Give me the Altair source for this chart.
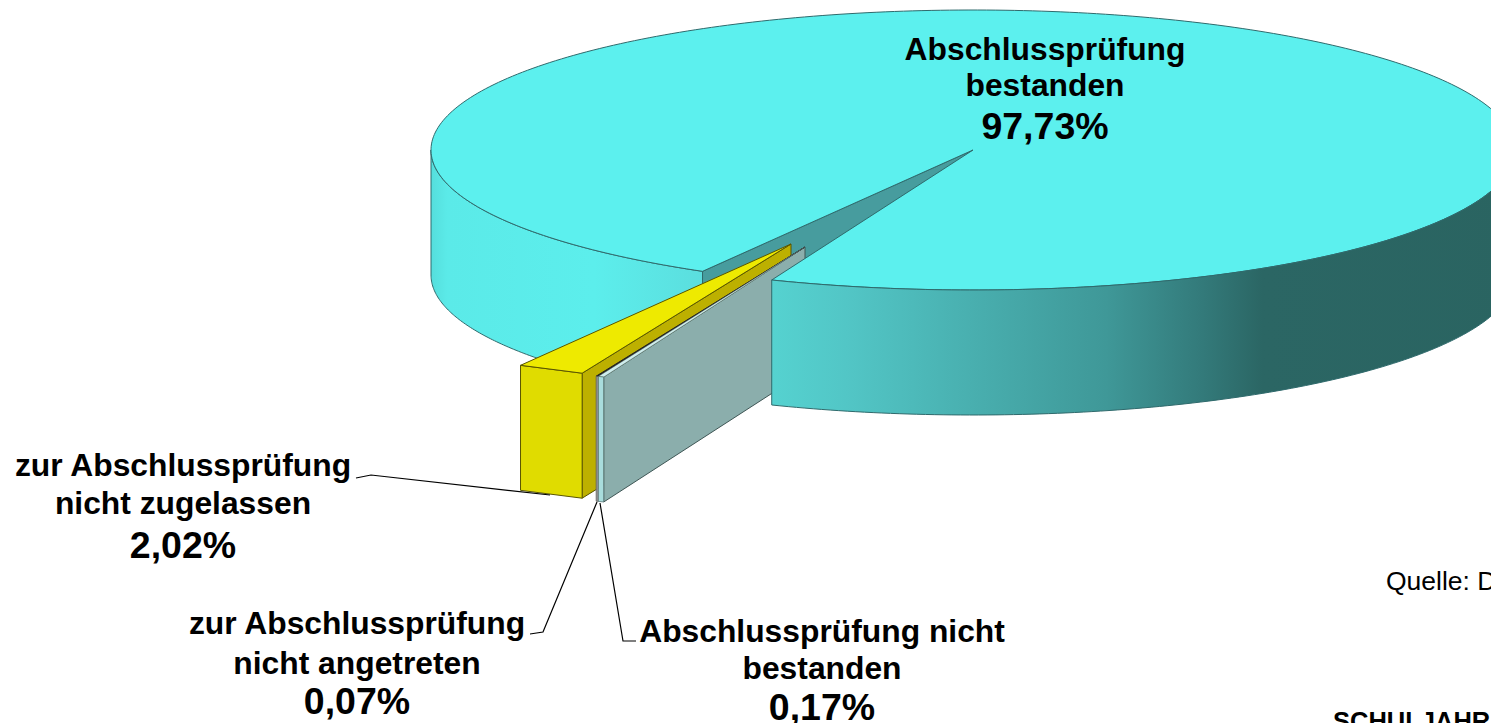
import math
import altair as alt
import pandas as pd

# --- data -------------------------------------------------------------
shares = [97.73, 2.02, 0.07, 0.17]
slice_names = ["Abschlussprüfung bestanden", "zur Abschlussprüfung nicht zugelassen",
               "zur Abschlussprüfung nicht angetreten", "Abschlussprüfung nicht bestanden"]

label_lines = ["Abschlussprüfung", "bestanden",
               "zur Abschlussprüfung", "nicht zugelassen",
               "zur Abschlussprüfung", "nicht angetreten",
               "Abschlussprüfung nicht", "bestanden"]
label_x = [1045, 1045, 183, 183, 357, 357, 822, 822]
label_y = [60, 96, 476, 514, 634, 674, 642, 679]

pct_lines = ["97,73%", "2,02%", "0,07%", "0,17%"]
pct_x = [1045, 183, 357, 822]
pct_y = [139, 558, 714, 720]

note_lines = ["Quelle: De"]
note_x = [1386]
note_y = [590]
head_lines = ["SCHULJAHR 2"]
head_x = [1333]
head_y = [730]

# Pie layout (page pixels)
CX, CY, RX, RY, DEPTH = 973, 150, 542, 140, 125
START = 21.8                      # degrees from the front, where the main slice ends
TIP_YELLOW = (791, 244)
TIP_GREY = (805, 247)

TOP = "#5CF0EE"
EDGE = "#2F6A6C"

X = alt.X("x:Q", scale=alt.Scale(domain=[8, 1491], range=[0, 1483], nice=False, zero=False), axis=None)
Y = alt.Y("y:Q", scale=alt.Scale(domain=[8, 723], range=[0, 715], nice=False, zero=False), axis=None)
Y2 = alt.Y2("y2:Q")


def pt(deg, cx=CX, cy=CY):
    a = math.radians(deg)
    return (cx - RX * math.sin(a), cy + RY * math.cos(a))


def span(share):
    return share * 3.6


def poly(points, fill, stroke=EDGE, sw=1.0):
    df = pd.DataFrame({"x": [p[0] for p in points], "y": [p[1] for p in points],
                       "i": list(range(len(points)))})
    return alt.Chart(df).mark_line(fill=fill, stroke=stroke, strokeWidth=sw,
                                   interpolate="linear-closed").encode(x=X, y=Y, order="i:Q")


def rim(a0, a1, stops, n=120):
    pts = [pt(a0 + (a1 - a0) * k / n) for k in range(n + 1)]
    df = pd.DataFrame({"x": [p[0] for p in pts], "y": [p[1] for p in pts],
                       "y2": [p[1] + DEPTH for p in pts]})
    grad = alt.Gradient(gradient="linear", x1=0, y1=0, x2=1, y2=0,
                        stops=[alt.GradientStop(offset=o, color=c) for o, c in stops])
    return alt.Chart(df).mark_area(color=grad, stroke=EDGE, strokeWidth=1).encode(x=X, y=Y, y2=Y2)


gap = span(shares[1] + shares[2] + shares[3])
A_END = START                       # front edge of the gap
A_BEG = START + gap                 # back edge of the gap
main_deg = 360 - gap

a_pt = pt(A_BEG)
b_pt = pt(A_END)

# angles of the three small slices, counted from the main slice's end
g0, g1 = START, START + span(shares[3])
d0, d1 = g1, g1 + span(shares[2])
y0, y1 = d1, d1 + span(shares[1])


def wedge(tip, a0, a1):
    p0 = pt(a0, tip[0], tip[1])
    p1 = pt(a1, tip[0], tip[1])
    return p0, p1


# back rim at the left, then the inner wall of the gap
left_rim = rim(90, A_BEG, [(0, "#55DEDC"), (0.06, "#5BEAE8"), (0.6, "#5CEEEC"), (1, "#5BDEDE")])
inner = poly([(CX, CY), a_pt, (a_pt[0], a_pt[1] + DEPTH), (CX, CY + DEPTH)], "#479C9E")

# yellow slice
yf, yb = wedge(TIP_YELLOW, y0, y1)
yellow_side = poly([yf, TIP_YELLOW, (TIP_YELLOW[0], TIP_YELLOW[1] + DEPTH), (yf[0], yf[1] + DEPTH)],
                   "#BDB000", "#5A5500")
yellow_front = poly([yb, yf, (yf[0], yf[1] + DEPTH), (yb[0], yb[1] + DEPTH)], "#E0DC00", "#5A5500")
yellow_top = poly([TIP_YELLOW, yb, yf], "#EEEA00", "#5A5500")

# the two thin slices
gf, gb = wedge(TIP_GREY, g0, g1)
df_, db_ = wedge(TIP_GREY, d0, d1)
grey_side = poly([gf, TIP_GREY, (TIP_GREY[0], TIP_GREY[1] + DEPTH), (gf[0], gf[1] + DEPTH)],
                 "#8BAEAC", "#3F5655")
dark_top = poly([TIP_GREY, db_, df_], "#222222", "#222222", 1.0)
grey_top = poly([TIP_GREY, gb, gf], "#CFEDED", "#5A7372", 0.4)
dark_front = poly([db_, df_, (df_[0], df_[1] + DEPTH), (db_[0], db_[1] + DEPTH)], "#9B9B9B", "#555555", 0.7)
grey_front = poly([gb, gf, (gf[0], gf[1] + DEPTH), (gb[0], gb[1] + DEPTH)], "#A9DDDD", "#4F6B6B", 0.7)

# the main slice's top face, with the gap cut out
N = 360
top_pts = [(CX, CY)] + [pt(A_BEG + main_deg * k / N) for k in range(N + 1)]
top = poly(top_pts, TOP)

# front rim at the right
right_rim = rim(START, -90, [(0, "#55D2D0"), (0.1, "#52C6C6"), (0.3, "#47ABAB"), (0.45, "#3F9898"),
                             (0.58, "#337A7A"), (0.66, "#2B6664"), (1, "#2A6461")])

# leader lines
leaders = [
    [(356, 478), (371, 475), (550, 495)],
    [(597, 502), (543, 632), (530, 634)],
    [(600, 503), (623, 641), (636, 641)],
]
leader_layers = []
for j, seg in enumerate(leaders):
    d = pd.DataFrame({"x": [p[0] for p in seg], "y": [p[1] for p in seg], "i": list(range(len(seg)))})
    leader_layers.append(alt.Chart(d).mark_line(color="#000000", strokeWidth=1.2).encode(x=X, y=Y, order="i:Q"))


def text(lines, xs, ys, size, weight, align, font="Liberation Sans"):
    d = pd.DataFrame({"t": lines, "x": xs, "y": ys})
    return alt.Chart(d).mark_text(font=font, fontSize=size, fontWeight=weight, align=align,
                                  baseline="alphabetic", color="#000000").encode(x=X, y=Y, text="t:N")


chart = alt.layer(
    left_rim, inner, yellow_side, yellow_front, yellow_top,
    grey_side, dark_top, grey_top, dark_front, grey_front,
    top, right_rim, *leader_layers,
    text(label_lines, label_x, label_y, 31.8, "bold", "center"),
    text(pct_lines, pct_x, pct_y, 37.5, "bold", "center"),
    text(note_lines, note_x, note_y, 26.5, "normal", "left"),
    text(head_lines, head_x, head_y, 25.5, "bold", "left"),
).properties(
    width=1483, height=715, padding=0,
    autosize=alt.AutoSizeParams(type="none"),
).configure_view(stroke=None)

chart.save("out.html", embed_options={"renderer": "svg", "actions": False})
